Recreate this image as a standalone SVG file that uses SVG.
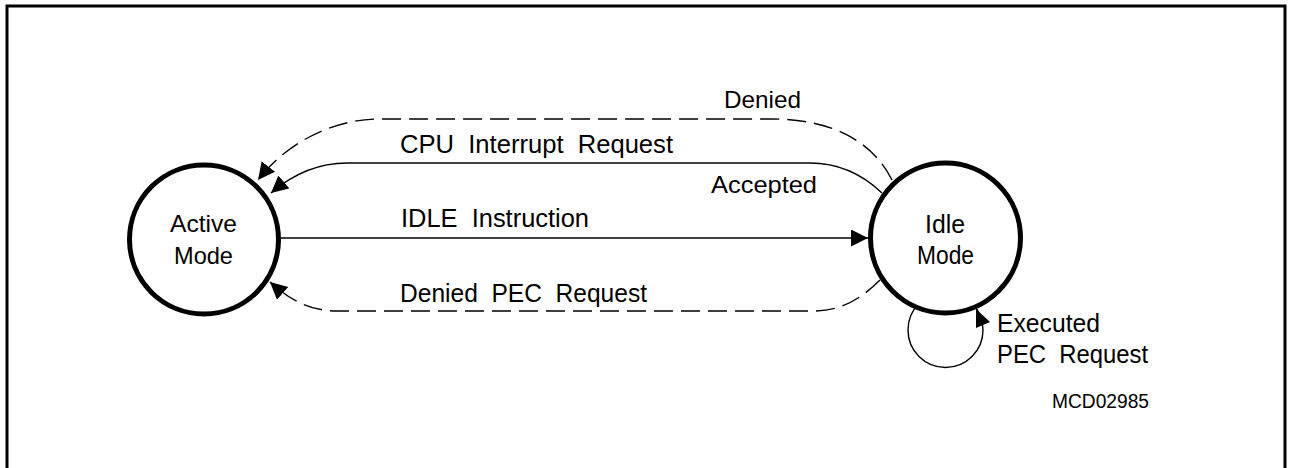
<svg xmlns="http://www.w3.org/2000/svg" width="1297" height="468" viewBox="0 0 1297 468">
<style>
.frame{fill:none;stroke:#000;stroke-width:3}
.node{fill:#fff;stroke:#000;stroke-width:5}
.conn{fill:none;stroke:#000;stroke-width:1.4}
.dash{stroke-dasharray:19 8}
text{font-family:"Liberation Sans Narrow","Liberation Sans",Arial,sans-serif;fill:#000;white-space:pre}
.c{text-anchor:middle}
</style>
<defs>
<marker id="ah" markerUnits="userSpaceOnUse" markerWidth="18" markerHeight="18" refX="17" refY="8.5" orient="auto" viewBox="0 0 18 18">
<path d="M0,0 L17,8.5 L0,17 z" fill="#000"/>
</marker>
</defs>
<rect class="frame" x="7" y="6" width="1278" height="480"/>
<g id="connectors">
<path id="denied" class="conn dash" d="M892,180 C872,140 830,119 772,119 L380,119 C330,119 285,145 258,180" marker-end="url(#ah)"/>
<path id="cpu-accepted" class="conn" d="M882,193 C860,172 836,163 810,163 L347,163 C316,163 292,175 271,193" marker-end="url(#ah)"/>
<line id="idle-instr" class="conn" x1="281" y1="238" x2="868" y2="238" marker-end="url(#ah)"/>
<path id="denied-pec" class="conn dash" d="M880,280 C860,300 840,311 813,311 L337,311 C310,311 290,300 270,282" marker-end="url(#ah)"/>
<circle id="self-loop" class="conn" cx="945.5" cy="330" r="37.5"/>
<polygon points="976,309 976,328 990,322" fill="#000"/>
</g>
<g id="active">
<circle class="node" cx="204" cy="239.5" r="74.5"/>
<text x="203.5" y="232" font-size="24" class="c" textLength="67" lengthAdjust="spacingAndGlyphs">Active</text>
<text x="203.5" y="264" font-size="24" class="c" textLength="59" lengthAdjust="spacingAndGlyphs">Mode</text>
</g>
<g id="idle">
<circle class="node" cx="945.5" cy="238" r="75"/>
<text x="945" y="233" font-size="25" class="c" textLength="40" lengthAdjust="spacingAndGlyphs">Idle</text>
<text x="945.5" y="264" font-size="25" class="c" textLength="57" lengthAdjust="spacingAndGlyphs">Mode</text>
</g>
<g id="labels">
<text x="724" y="108" font-size="24" textLength="77" lengthAdjust="spacingAndGlyphs">Denied</text>
<text x="400" y="153" font-size="26" textLength="273" lengthAdjust="spacingAndGlyphs">CPU  Interrupt  Request</text>
<text x="711" y="193" font-size="24" textLength="106" lengthAdjust="spacingAndGlyphs">Accepted</text>
<text x="401" y="227" font-size="25" textLength="188" lengthAdjust="spacingAndGlyphs">IDLE  Instruction</text>
<text x="400" y="302" font-size="26" textLength="247" lengthAdjust="spacingAndGlyphs">Denied  PEC  Request</text>
<text x="997" y="331.5" font-size="26" textLength="103" lengthAdjust="spacingAndGlyphs">Executed</text>
<text x="997" y="363" font-size="26" textLength="151" lengthAdjust="spacingAndGlyphs">PEC  Request</text>
<text x="1052" y="408" font-size="20" textLength="97" lengthAdjust="spacingAndGlyphs">MCD02985</text>
</g>
</svg>
